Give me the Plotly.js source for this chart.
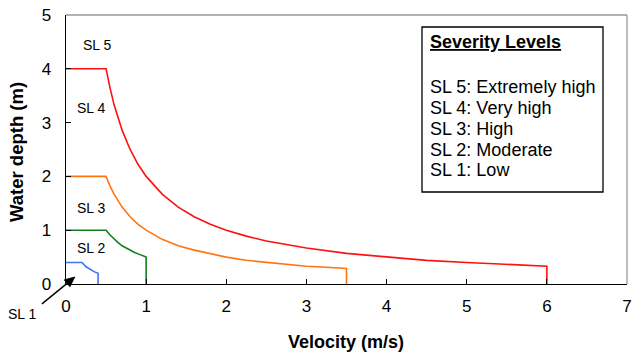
<!DOCTYPE html>
<html>
<head>
<meta charset="utf-8">
<script src="https://cdn.plot.ly/plotly-3.0.1.min.js"></script>
<style>html,body{margin:0;padding:0;background:#fff;}#chart{width:633px;height:357px;}</style>
</head>
<body>
<div id="chart"></div>
<script>
// Severity level boundaries (velocity m/s, water depth m)
const sl1V = [0, 0.2, 0.25, 0.3, 0.35, 0.4, 0.4];
const sl1D = [0.4, 0.4, 0.32, 0.27, 0.23, 0.2, 0];

const sl2V = [0, 0.5, 0.55, 0.6, 0.65, 0.7, 0.75, 0.8, 0.85, 0.9, 0.95, 1, 1];
const sl2D = [1, 1, 0.91, 0.83, 0.77, 0.71, 0.67, 0.62, 0.59, 0.56, 0.53, 0.5, 0];

const sl3V = [0, 0.5, 0.55, 0.6, 0.7, 0.8, 0.9, 1, 1.2, 1.4, 1.6, 1.8, 2, 2.25, 2.5, 2.75, 3, 3.25, 3.5, 3.5];
const sl3D = [2, 2, 1.82, 1.67, 1.43, 1.25, 1.11, 1, 0.83, 0.71, 0.63, 0.56, 0.5, 0.44, 0.4, 0.36, 0.33, 0.31, 0.29, 0];

const sl4V = [0, 0.5, 0.55, 0.6, 0.7, 0.8, 0.9, 1, 1.2, 1.4, 1.6, 1.8, 2, 2.25, 2.5, 2.75, 3, 3.5, 4, 4.5, 5, 5.5, 6, 6];
const sl4D = [4, 4, 3.64, 3.33, 2.86, 2.5, 2.22, 2, 1.67, 1.43, 1.25, 1.11, 1, 0.89, 0.8, 0.73, 0.67, 0.57, 0.5, 0.44, 0.4, 0.36, 0.33, 0];

const xTicks = [0, 1, 2, 3, 4, 5, 6, 7];
const yTicks = [0, 1, 2, 3, 4, 5];

const zoneLabels = ["SL 5", "SL 4", "SL 3", "SL 2"];
const zoneX = [0.39, 0.31, 0.31, 0.31];
const zoneY = [4.45, 3.27, 1.41, 0.66];

// SL 1 pointer: tip and tail in data units
const sl1Tip = [0.11, 0.13];
const sl1Tail = [-0.30, -0.37];

const sl1Label = "SL 1";
const legendTitle = "Severity Levels";
const legendItems = ["SL 5: Extremely high", "SL 4: Very high", "SL 3: High", "SL 2: Moderate", "SL 1: Low"];
const xTitle = "Velocity (m/s)";
const yTitle = "Water depth (m)";

const font = "Liberation Sans, Arial, sans-serif";
const W = 633, H = 357, L = 66, R = 6, T = 15, B = 73;
const XR = [0, 7], YR = [0, 5];
const pw = W - L - R, ph = H - T - B;
const px = p => (p - L) / pw;          // pixel x -> paper x
const py = p => (H - B - p) / ph;      // pixel y -> paper y

const traces = [
  {x: sl1V, y: sl1D, line: {color: '#3f76f0', width: 1.6}},
  {x: sl2V, y: sl2D, line: {color: '#12801a', width: 1.6}},
  {x: sl3V, y: sl3D, line: {color: '#ff7410', width: 1.6}},
  {x: sl4V, y: sl4D, line: {color: '#ff1010', width: 1.6}}
].map(t => Object.assign(t, {mode: 'lines', showlegend: false, hoverinfo: 'skip'}));

const annotations = zoneLabels.map((t, i) => ({
  x: zoneX[i], y: zoneY[i], xref: 'x', yref: 'y', text: t, showarrow: false,
  font: {family: font, size: 14, color: '#000'}, xanchor: 'center', yanchor: 'middle'
}));

annotations.push({
  x: px(22), y: py(314), xref: 'paper', yref: 'paper', text: sl1Label, showarrow: false,
  xanchor: 'center', yanchor: 'middle', font: {family: font, size: 14, color: '#000'}
});

// Legend box text
annotations.push({
  x: px(428), y: py(42), xref: 'paper', yref: 'paper', xanchor: 'left', yanchor: 'middle',
  text: '<b><u>' + legendTitle + '</u></b>', showarrow: false,
  font: {family: font, size: 18, color: '#000'}
});
const itemY = [87, 108, 129, 149.5, 170];
legendItems.forEach((t, i) => annotations.push({
  x: px(428), y: py(itemY[i]), xref: 'paper', yref: 'paper', xanchor: 'left', yanchor: 'middle',
  text: t, showarrow: false, font: {family: font, size: 18, color: '#000'}
}));

// Axis titles
annotations.push({
  x: px(346), y: py(342), xref: 'paper', yref: 'paper', xanchor: 'center', yanchor: 'middle',
  text: '<b>' + xTitle + '</b>', showarrow: false, font: {family: font, size: 18, color: '#000'}
});
annotations.push({
  x: px(16), y: py(152), xref: 'paper', yref: 'paper', xanchor: 'center', yanchor: 'middle',
  text: '<b>' + yTitle + '</b>', textangle: -90, showarrow: false,
  font: {family: font, size: 18.5, color: '#000'}
});

// SL 1 arrow as paper-referenced shapes (not clipped by the plot area)
const dx2p = v => (v - XR[0]) / (XR[1] - XR[0]);
const dy2p = v => (v - YR[0]) / (YR[1] - YR[0]);
const tipPx = [L + dx2p(sl1Tip[0]) * pw, H - B - dy2p(sl1Tip[1]) * ph];
const tailPx = [L + dx2p(sl1Tail[0]) * pw, H - B - dy2p(sl1Tail[1]) * ph];
const ddx = tipPx[0] - tailPx[0], ddy = tipPx[1] - tailPx[1];
const len = Math.hypot(ddx, ddy), ux = ddx / len, uy = ddy / len;
const headL = 10, headW = 4.5;
const baseC = [tipPx[0] - headL * ux, tipPx[1] - headL * uy];
const c1 = [baseC[0] + headW * -uy, baseC[1] + headW * ux];
const c2 = [baseC[0] - headW * -uy, baseC[1] - headW * ux];
const P = p => px(p[0]) + ',' + py(p[1]);

const layout = {
  width: W, height: H,
  margin: {l: L, r: R, t: T, b: B},
  paper_bgcolor: '#fff', plot_bgcolor: '#fff',
  font: {family: font, color: '#000'},
  xaxis: {
    range: XR, tickvals: xTicks, ticktext: xTicks.map(String),
    showgrid: false, zeroline: false, showline: true, linecolor: '#000', linewidth: 1.3,
    ticks: 'inside', ticklen: 5, tickcolor: '#000', tickfont: {family: font, size: 17},
    ticklabelstandoff: 6, fixedrange: true
  },
  yaxis: {
    range: YR, tickvals: yTicks, ticktext: yTicks.map(String),
    showgrid: false, zeroline: false, showline: true, linecolor: '#000', linewidth: 1.3,
    ticks: 'inside', ticklen: 5, tickcolor: '#000', tickfont: {family: font, size: 17},
    ticklabelstandoff: 10, fixedrange: true
  },
  shapes: [
    {type: 'line', xref: 'paper', yref: 'paper', x0: 0, x1: 1, y0: 1, y1: 1, line: {color: '#999', width: 1.3}},
    {type: 'line', xref: 'paper', yref: 'paper', x0: 1, x1: 1, y0: 0, y1: 1, line: {color: '#999', width: 1.3}},
    {type: 'rect', xref: 'paper', yref: 'paper', x0: px(422), x1: px(603), y0: py(192), y1: py(27),
     line: {color: '#000', width: 1.3}, fillcolor: '#fff', layer: 'below'},
    {type: 'line', xref: 'paper', yref: 'paper', x0: px(tailPx[0]), y0: py(tailPx[1]),
     x1: px(baseC[0]), y1: py(baseC[1]), line: {color: '#000', width: 1.4}},
    {type: 'path', xref: 'paper', yref: 'paper', path: 'M' + P(tipPx) + ' L' + P(c1) + ' L' + P(c2) + ' Z',
     fillcolor: '#000', line: {color: '#000', width: 0.8}}
  ],
  annotations: annotations
};

Plotly.newPlot('chart', traces, layout, {displayModeBar: false, staticPlot: true});
</script>
</body>
</html>
